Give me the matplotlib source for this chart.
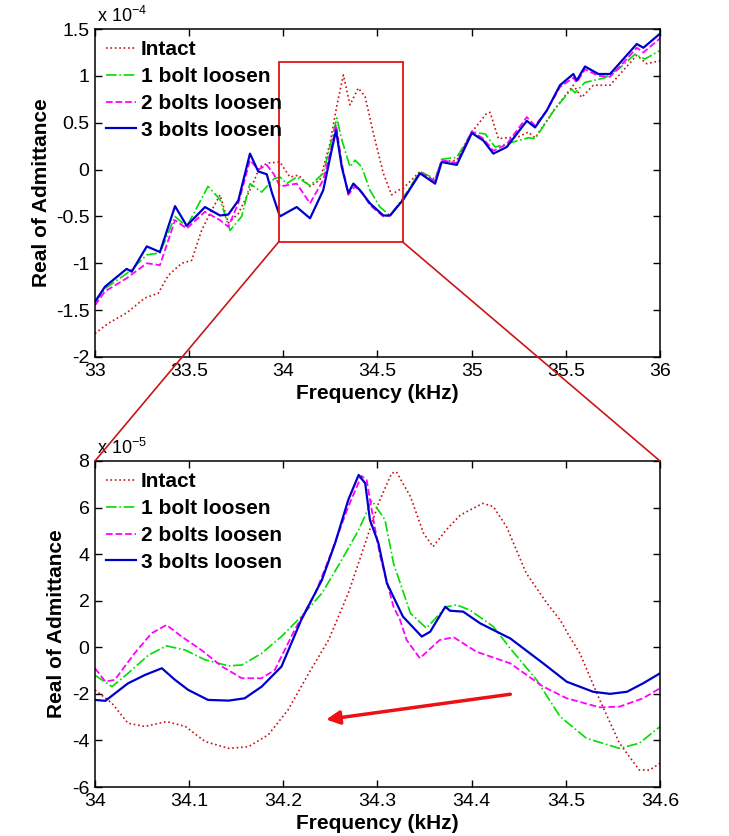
import matplotlib
matplotlib.use('Agg')
import matplotlib.pyplot as plt
from matplotlib.patches import Rectangle, ConnectionPatch

plt.rcParams['font.family'] = ['Liberation Sans', 'DejaVu Sans']
plt.rcParams['mathtext.fontset'] = 'custom'
plt.rcParams['mathtext.rm'] = 'Liberation Sans'
plt.rcParams['mathtext.it'] = 'Liberation Sans'

# ---- data: full sweep (values in 1e-4) ----
f_intact_top = [33.000, 33.071, 33.168, 33.265, 33.336, 33.389, 33.460, 33.513, 33.566, 33.610,
                33.664, 33.708, 33.761, 33.832, 33.876, 33.920, 33.982, 34.035, 34.080, 34.142,
                34.195, 34.248, 34.283, 34.319, 34.354, 34.398, 34.434, 34.478, 34.531, 34.575,
                34.611, 34.637, 34.726, 34.806, 34.841, 34.921, 35.001, 35.080, 35.098, 35.142,
                35.248, 35.301, 35.337, 35.443, 35.540, 35.584, 35.646, 35.735, 35.797, 35.877,
                35.929, 36.000]
v_intact_top = [-1.75, -1.64, -1.53, -1.37, -1.32, -1.13, -1.00, -0.97, -0.65, -0.47,
                -0.27, -0.57, -0.47, -0.18, 0.03, 0.07, 0.08, -0.08, -0.06, -0.18,
                -0.11, 0.28, 0.67, 1.01, 0.69, 0.87, 0.78, 0.39, -0.04, -0.27,
                -0.22, -0.20, -0.02, -0.13, 0.08, 0.10, 0.40, 0.60, 0.61, 0.33,
                0.35, 0.40, 0.34, 0.65, 0.90, 0.77, 0.90, 0.90, 1.04, 1.22,
                1.13, 1.16]

f_b1_top = [33.000, 33.053, 33.168, 33.208, 33.275, 33.345, 33.425, 33.487, 33.600, 33.664,
            33.717, 33.779, 33.823, 33.885, 33.950, 33.982, 34.018, 34.071, 34.142, 34.212,
            34.257, 34.284, 34.310, 34.354, 34.381, 34.416, 34.460, 34.513, 34.567, 34.637,
            34.726, 34.806, 34.841, 34.921, 35.001, 35.072, 35.125, 35.213, 35.302, 35.337,
            35.443, 35.531, 35.549, 35.602, 35.708, 35.779, 35.867, 35.920, 36.000]
v_b1_top = [-1.42, -1.27, -1.11, -1.04, -0.91, -0.89, -0.50, -0.61, -0.18, -0.32,
            -0.65, -0.50, -0.15, -0.24, -0.10, -0.08, -0.15, -0.08, -0.17, -0.04,
            0.32, 0.55, 0.32, 0.03, 0.10, 0.03, -0.22, -0.40, -0.49, -0.30,
            -0.02, -0.10, 0.11, 0.13, 0.40, 0.38, 0.24, 0.29, 0.34, 0.33,
            0.65, 0.86, 0.82, 0.93, 0.98, 1.07, 1.23, 1.18, 1.27]

f_b2_top = [33.000, 33.053, 33.168, 33.275, 33.345, 33.425, 33.487, 33.584, 33.664, 33.708,
            33.761, 33.823, 33.867, 33.912, 33.950, 33.982, 34.071, 34.142, 34.212, 34.257,
            34.280, 34.310, 34.345, 34.380, 34.420, 34.460, 34.531, 34.567, 34.637, 34.726,
            34.806, 34.841, 34.921, 35.001, 35.062, 35.115, 35.186, 35.293, 35.337, 35.399,
            35.469, 35.540, 35.558, 35.602, 35.673, 35.735, 35.797, 35.877, 35.912, 36.000]
v_b2_top = [-1.45, -1.30, -1.16, -1.00, -1.02, -0.54, -0.63, -0.45, -0.54, -0.61,
            -0.36, 0.10, 0.00, 0.05, -0.05, -0.18, -0.15, -0.36, -0.11, 0.24,
            0.48, 0.07, -0.27, -0.18, -0.25, -0.38, -0.50, -0.49, -0.32, -0.03,
            -0.12, 0.10, 0.07, 0.41, 0.33, 0.20, 0.27, 0.56, 0.47, 0.63,
            0.88, 0.98, 0.93, 1.07, 1.00, 0.99, 1.12, 1.30, 1.25, 1.40]

f_b3_top = [33.000, 33.053, 33.168, 33.195, 33.275, 33.345, 33.425, 33.487, 33.584, 33.664,
            33.708, 33.761, 33.823, 33.867, 33.912, 33.940, 33.982, 34.071, 34.142, 34.212,
            34.257, 34.280, 34.310, 34.345, 34.372, 34.407, 34.460, 34.531, 34.567, 34.637,
            34.726, 34.806, 34.841, 34.921, 35.001, 35.062, 35.115, 35.186, 35.293, 35.337,
            35.399, 35.469, 35.540, 35.558, 35.602, 35.673, 35.735, 35.797, 35.877, 35.912,
            36.000]
v_b3_top = [-1.41, -1.25, -1.06, -1.09, -0.82, -0.88, -0.39, -0.60, -0.40, -0.49,
            -0.48, -0.33, 0.17, -0.02, -0.05, -0.25, -0.50, -0.40, -0.52, -0.22,
            0.21, 0.42, 0.03, -0.25, -0.15, -0.22, -0.36, -0.49, -0.49, -0.32,
            -0.04, -0.15, 0.08, 0.05, 0.39, 0.31, 0.17, 0.24, 0.52, 0.45,
            0.63, 0.90, 1.02, 0.95, 1.10, 1.02, 1.02, 1.16, 1.34, 1.30,
            1.45]

# ---- data: zoomed sweep (values in 1e-5) ----
f_intact_zoom = [34.000, 34.018, 34.035, 34.053, 34.076, 34.096, 34.117, 34.142, 34.163, 34.184,
                 34.205, 34.227, 34.248, 34.269, 34.287, 34.301, 34.315, 34.320, 34.335, 34.349,
                 34.359, 34.373, 34.388, 34.412, 34.423, 34.437, 34.458, 34.480, 34.494, 34.504,
                 34.515, 34.536, 34.557, 34.578, 34.589, 34.600]
v_intact_zoom = [-1.83, -2.40, -3.26, -3.40, -3.19, -3.40, -4.05, -4.34, -4.27, -3.76,
                 -2.69, -1.12, 0.31, 2.32, 4.47, 6.18, 7.47, 7.54, 6.47, 4.89,
                 4.32, 5.04, 5.68, 6.18, 6.04, 5.18, 3.18, 1.89, 1.17, 0.46,
                 -0.26, -2.26, -4.12, -5.27, -5.27, -4.98]

f_b1_zoom = [34.000, 34.018, 34.035, 34.057, 34.076, 34.096, 34.117, 34.142, 34.156, 34.177,
             34.198, 34.219, 34.241, 34.262, 34.280, 34.294, 34.308, 34.317, 34.335, 34.352,
             34.373, 34.384, 34.398, 34.423, 34.441, 34.469, 34.494, 34.522, 34.557, 34.578,
             34.600]
v_b1_zoom = [-1.20, -1.69, -1.12, -0.33, 0.06, -0.12, -0.54, -0.80, -0.76, -0.26,
             0.46, 1.32, 2.32, 3.75, 5.04, 6.30, 5.47, 3.61, 1.46, 0.82,
             1.74, 1.82, 1.60, 0.89, -0.05, -1.40, -2.98, -3.91, -4.34, -4.12,
             -3.41]

f_b2_zoom = [34.000, 34.011, 34.021, 34.042, 34.060, 34.076, 34.092, 34.113, 34.135, 34.156,
             34.177, 34.191, 34.212, 34.234, 34.248, 34.269, 34.283, 34.2885, 34.297, 34.303,
             34.317, 34.324, 34.331, 34.345, 34.366, 34.381, 34.405, 34.441, 34.476, 34.501,
             34.536, 34.557, 34.582, 34.600]
v_b2_zoom = [-0.90, -1.47, -1.40, -0.26, 0.60, 0.96, 0.46, -0.12, -0.83, -1.33,
             -1.33, -0.97, 0.74, 2.32, 3.75, 6.04, 7.36, 7.18, 5.18, 3.89,
             1.74, 1.17, 0.31, -0.47, 0.31, 0.43, -0.19, -0.69, -1.69, -2.19,
             -2.58, -2.55, -2.19, -1.76]

f_b3_zoom = [34.000, 34.011, 34.035, 34.053, 34.071, 34.085, 34.099, 34.120, 34.142, 34.159,
             34.177, 34.198, 34.219, 34.241, 34.255, 34.269, 34.280, 34.287, 34.292, 34.301,
             34.310, 34.327, 34.347, 34.356, 34.372, 34.377, 34.391, 34.409, 34.441, 34.476,
             34.501, 34.529, 34.547, 34.565, 34.582, 34.600]
v_b3_zoom = [-2.26, -2.30, -1.55, -1.19, -0.90, -1.40, -1.83, -2.26, -2.29, -2.19,
             -1.69, -0.83, 1.17, 2.89, 4.47, 6.33, 7.40, 7.04, 5.47, 4.47,
             2.75, 1.32, 0.46, 0.67, 1.74, 1.57, 1.53, 1.03, 0.38, -0.69,
             -1.48, -1.91, -2.00, -1.91, -1.55, -1.12]

labels = ['Intact', '1 bolt loosen', '2 bolts loosen', '3 bolts loosen']

RED = '#cc1010'
GREEN = '#00dd00'
MAGENTA = '#ff00ff'
BLUE = '#0000cc'
styles = [dict(color=RED, ls=':', lw=1.2),
          dict(color=GREEN, ls='-.', lw=1.2),
          dict(color=MAGENTA, ls='--', lw=1.3),
          dict(color=BLUE, ls='-', lw=1.6)]

fig = plt.figure(figsize=(7.29, 8.36), dpi=100)
ax1 = fig.add_axes([0.1303, 0.5730, 0.775, 0.3923])
ax2 = fig.add_axes([0.1303, 0.0586, 0.775, 0.3900])

top = [(f_intact_top, v_intact_top), (f_b1_top, v_b1_top),
       (f_b2_top, v_b2_top), (f_b3_top, v_b3_top)]
zoom = [(f_intact_zoom, v_intact_zoom), (f_b1_zoom, v_b1_zoom),
        (f_b2_zoom, v_b2_zoom), (f_b3_zoom, v_b3_zoom)]

for (f, v), st, lab in zip(top, styles, labels):
    ax1.plot(f, v, label=lab, **st)
for (f, v), st, lab in zip(zoom, styles, labels):
    ax2.plot(f, v, label=lab, **st)

ax1.set_xlim(33, 36)
ax1.set_ylim(-2, 1.5)
ax1.set_xticks([33, 33.5, 34, 34.5, 35, 35.5, 36])
ax1.set_xticklabels(['33', '33.5', '34', '34.5', '35', '35.5', '36'])
ax1.set_yticks([-2, -1.5, -1, -0.5, 0, 0.5, 1, 1.5])
ax1.set_yticklabels(['-2', '-1.5', '-1', '-0.5', '0', '0.5', '1', '1.5'])

ax2.set_xlim(34, 34.6)
ax2.set_ylim(-6, 8)
ax2.set_xticks([34, 34.1, 34.2, 34.3, 34.4, 34.5, 34.6])
ax2.set_xticklabels(['34', '34.1', '34.2', '34.3', '34.4', '34.5', '34.6'])
ax2.set_yticks([-6, -4, -2, 0, 2, 4, 6, 8])
ax2.set_yticklabels(['-6', '-4', '-2', '0', '2', '4', '6', '8'])

for ax, exp in [(ax1, '-4'), (ax2, '-5')]:
    ax.tick_params(direction='in', top=True, right=True, labelsize=14, length=5, width=1, pad=4)
    for s in ax.spines.values():
        s.set_linewidth(1.1)
    ax.set_xlabel('Frequency (kHz)', fontsize=15, fontweight='bold', labelpad=3)
    ax.set_ylabel('Real of Admittance', fontsize=15, fontweight='bold')
    ax.legend(loc='upper left', frameon=False, prop=dict(size=15, weight='bold'),
              handlelength=1.4, handletextpad=0.25, labelspacing=0.37,
              borderaxespad=0.25, borderpad=0.3)
    ax.text(0.003, 1.008, 'x 10$^{' + exp + '}$', transform=ax.transAxes,
            fontsize=13, ha='left', va='bottom')

ax1.yaxis.set_label_coords(-0.078, 0.5)
ax2.yaxis.set_label_coords(-0.052, 0.5)

# zoom box and connectors
x0, x1r, y0, y1r = 33.975, 34.634, -0.773, 1.148
ax1.add_patch(Rectangle((x0, y0), x1r - x0, y1r - y0, fill=False,
                        edgecolor='#dd1515', lw=1.3, zorder=5))
for xa, xb in [(x0, 0), (x1r, 1)]:
    con = ConnectionPatch(xyA=(xa, y0), coordsA=ax1.transData,
                          xyB=(xb, 1), coordsB=ax2.transAxes,
                          color='#cc1515', lw=1.2, zorder=10)
    fig.add_artist(con)

ax2.annotate('', xy=(34.2425, -3.12), xytext=(34.444, -2.0),
             arrowprops=dict(arrowstyle='-|>', color='#ee1111', lw=2.5,
                             mutation_scale=20))

fig.savefig('out.png', dpi=100, facecolor='white')
